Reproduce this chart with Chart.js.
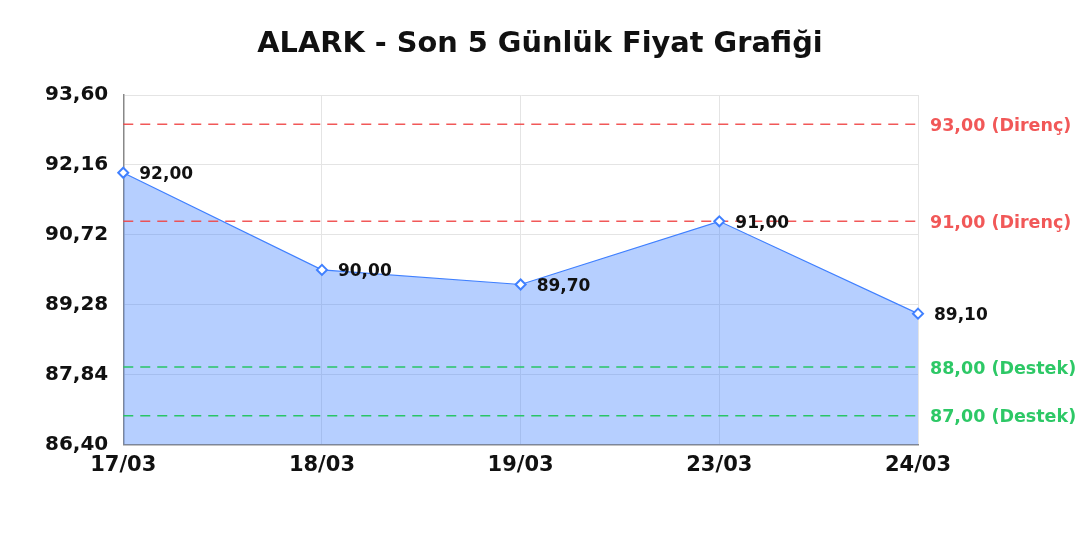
<!DOCTYPE html>
<html>
<head>
  <meta charset="utf-8">
  <title>ALARK - Son 5 Günlük Fiyat Grafiği</title>
  <style>
    body {
      margin: 0;
      background: #fff;
    }
    #wrap {
      width: 1080px;
      height: 540px;
    }
  </style>
</head>
<body>
  <div id="wrap">
    <canvas id="priceChart" width="1080" height="540"></canvas>
  </div>

  <script src="https://cdn.jsdelivr.net/npm/chart.js"></script>
  <script>
    // chart data
    const days = ['17/03', '18/03', '19/03', '23/03', '24/03'];
    const prices = [92.00, 90.00, 89.70, 91.00, 89.10];
    const yTicks = [86.40, 87.84, 89.28, 90.72, 92.16, 93.60];
    const resistance = [93.00, 91.00];
    const support = [88.00, 87.00];
    const titleText = 'ALARK - Son 5 Günlük Fiyat Grafiği';

    const FONT = "'DejaVu Sans', sans-serif";
    const fmt = v => v.toFixed(2).replace('.', ',');

    // title centred on the whole canvas, dashed support / resistance lines, value labels
    const levelsPlugin = {
      id: 'levels',
      beforeDatasetsDraw(chart) {
        const { ctx, chartArea, scales } = chart;
        const draw = (vals, color, label) => {
          vals.forEach(v => {
            const y = scales.y.getPixelForValue(v);
            ctx.save();
            ctx.strokeStyle = color;
            ctx.lineWidth = 1.5;
            ctx.setLineDash([10, 7]);
            ctx.beginPath();
            ctx.moveTo(chartArea.left, y);
            ctx.lineTo(chartArea.right, y);
            ctx.stroke();
            ctx.setLineDash([]);
            ctx.fillStyle = color;
            ctx.font = 'bold 17.5px ' + FONT;
            ctx.textAlign = 'left';
            ctx.textBaseline = 'middle';
            ctx.fillText(fmt(v) + ' (' + label + ')', chartArea.right + 12, y + 2);
            ctx.restore();
          });
        };
        draw(resistance, 'rgba(240, 70, 70, 0.9)', 'Direnç');
        draw(support, 'rgba(34, 197, 94, 0.95)', 'Destek');
      },
      afterDatasetsDraw(chart) {
        const { ctx } = chart;
        const meta = chart.getDatasetMeta(0);
        ctx.save();
        ctx.fillStyle = '#111';
        ctx.font = 'bold 17px ' + FONT;
        ctx.textAlign = 'left';
        ctx.textBaseline = 'middle';
        meta.data.forEach((pt, i) => {
          ctx.fillText(fmt(prices[i]), pt.x + 16, pt.y + 2);
        });
        ctx.font = 'bold 28.8px ' + FONT;
        ctx.textAlign = 'center';
        ctx.fillText(titleText, chart.width / 2, 45);
        ctx.restore();
      }
    };

    new Chart(document.getElementById('priceChart'), {
      type: 'line',
      data: {
        labels: days,
        datasets: [{
          data: prices,
          borderColor: 'rgb(64, 128, 255)',
          backgroundColor: 'rgba(64, 128, 255, 0.38)',
          borderWidth: 1.2,
          fill: 'start',
          tension: 0,
          pointStyle: 'rectRot',
          pointRadius: 5,
          pointBorderWidth: 2,
          pointBackgroundColor: '#fff',
          pointBorderColor: 'rgb(64, 128, 255)'
        }]
      },
      options: {
        responsive: false,
        animation: false,
        layout: {
          padding: { left: 30, right: 162, top: 95, bottom: 54 }
        },
        plugins: {
          legend: { display: false },
          tooltip: { enabled: false },
          title: { display: false },
          filler: { drawTime: 'beforeDatasetsDraw' }
        },
        scales: {
          x: {
            offset: false,
            grid: { color: '#e4e4e4', drawTicks: false },
            border: { color: '#888', width: 1.5 },
            ticks: {
              color: '#111',
              padding: 8,
              maxRotation: 0,
              font: { family: FONT, size: 21, weight: 'bold' }
            }
          },
          y: {
            min: yTicks[0],
            max: yTicks[yTicks.length - 1],
            afterBuildTicks: axis => {
              axis.ticks = yTicks.map(v => ({ value: v }));
            },
            grid: { color: '#e4e4e4', drawTicks: false },
            border: { color: '#888', width: 1.5 },
            ticks: {
              color: '#111',
              padding: 15,
              font: { family: FONT, size: 20, weight: 'bold' },
              callback: v => fmt(v)
            }
          }
        }
      },
      plugins: [levelsPlugin]
    });
  </script>
</body>
</html>
